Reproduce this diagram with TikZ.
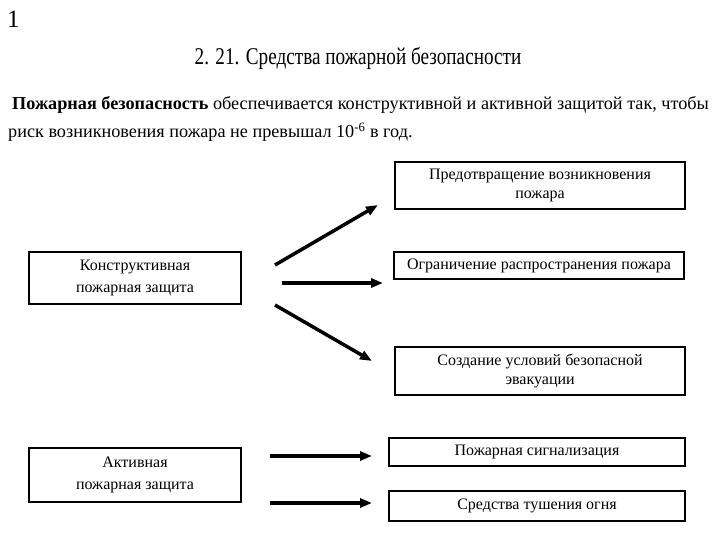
\documentclass[tikz,border=0pt]{standalone}
\usepackage{fontspec}
\setmainfont{Liberation Serif}
\newfontfamily\titlefont[FakeStretch=0.8]{Liberation Serif}
\usetikzlibrary{arrows.meta}
\begin{document}
\begin{tikzpicture}[x=1pt,y=-1pt,
  box/.style={draw,line width=2pt,inner sep=0pt,align=center,font=\fontsize{16}{19}\selectfont},
  lbox/.style={box,font=\fontsize{16}{21.5}\selectfont},
  arr/.style={line width=3.5pt,-{Triangle[length=12pt,width=9pt]}}]
\useasboundingbox (0,0) rectangle (720,540);
\node[anchor=base west,inner sep=0pt,font=\fontsize{25}{25}\selectfont] (num) at (7,28) {1};
\node[anchor=base,inner sep=0pt,font=\titlefont\fontsize{24}{24}\selectfont] (title) at (358,65) {2. 21. Средства пожарной безопасности};
\node[anchor=base west,inner sep=0pt,font=\fontsize{18.2}{18}\selectfont] (l1) at (12,110) {\textbf{Пожарная безопасность} обеспечивается конструктивной и активной защитой так, чтобы};
\node[anchor=base west,inner sep=0pt,font=\fontsize{18.2}{18}\selectfont] (l2) at (8,138) {риск возникновения пожара не превышал 10\textsuperscript{-6} в год.};
\node[box,minimum width=290pt,minimum height=47pt] (b1) at (540,185.5) {Предотвращение возникновения\\пожара};
\node[box,minimum width=290pt,minimum height=27pt] (b2) at (539,265.5) {Ограничение распространения пожара};
\node[box,minimum width=290pt,minimum height=48pt] (b3) at (540,371) {Создание условий безопасной\\эвакуации};
\node[box,minimum width=296pt,minimum height=28pt] (b4) at (537,452) {Пожарная сигнализация};
\node[box,minimum width=296pt,minimum height=30pt] (b5) at (537,506) {Средства тушения огня};
\node[lbox,minimum width=212pt,minimum height=52pt] (k) at (135,278) {Конструктивная\\пожарная защита};
\node[lbox,minimum width=212pt,minimum height=54pt] (a) at (135,475) {Активная\\пожарная защита};
\coordinate (s1) at (275,265);
\coordinate (e1) at (378,205);
\coordinate (s2) at (282,283);
\coordinate (e2) at (383,283);
\coordinate (s3) at (275,305);
\coordinate (e3) at (372,361);
\coordinate (s4) at (270,456);
\coordinate (e4) at (372,456);
\coordinate (s5) at (270,503);
\coordinate (e5) at (372,503);
\draw[arr] (s1) -- (e1);
\draw[arr] (s2) -- (e2);
\draw[arr] (s3) -- (e3);
\draw[arr] (s4) -- (e4);
\draw[arr] (s5) -- (e5);
\end{tikzpicture}
\end{document}
